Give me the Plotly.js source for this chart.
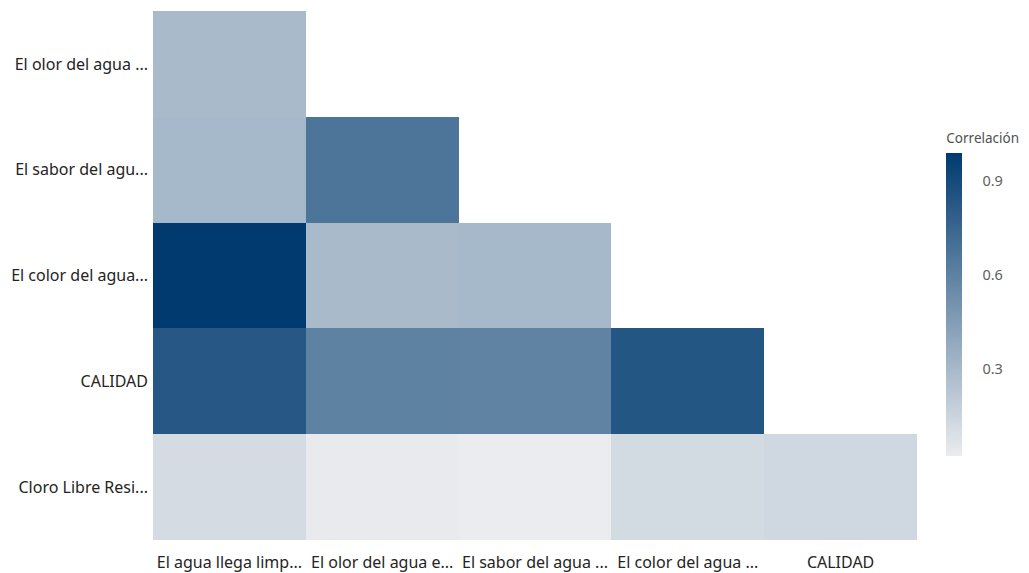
<!DOCTYPE html>
<html>
<head>
<meta charset="utf-8">
<script src="https://cdn.plot.ly/plotly-3.0.1.min.js"></script>
<style>html,body{margin:0;padding:0;background:#fff;}#chart{width:1029px;height:573px;}</style>
</head>
<body>
<div id="chart"></div>
<script>
const xLabels = ["El agua llega limp...", "El olor del agua e...", "El sabor del agua ...", "El color del agua ...", "CALIDAD"];
const yLabels = ["El olor del agua ...", "El sabor del agu...", "El color del agua...", "CALIDAD", "Cloro Libre Resi..."];
// rows follow yLabels, columns follow xLabels (null = empty upper triangle)
const rowOlor    = [0.29, null, null, null, null];
const rowSabor   = [0.30, 0.67, null, null, null];
const rowColor   = [0.99, 0.29, 0.30, null, null];
const rowCalidad = [0.83, 0.60, 0.59, 0.84, null];
const rowCloro   = [0.11, 0.03, 0.02, 0.12, 0.13];
const colorbarTicks = [0.3, 0.6, 0.9];

const z = [rowOlor, rowSabor, rowColor, rowCalidad, rowCloro];
const FONT = 'Noto Sans, Open Sans, sans-serif';

const trace = {
  type: 'heatmap',
  x: xLabels,
  y: yLabels,
  z: z,
  zmin: 0.02,
  zmax: 0.99,
  colorscale: [[0, '#eaecef'], [1, '#003a6f']],
  hoverongaps: false,
  colorbar: {
    title: {text: 'Correlación', side: 'top', font: {family: FONT, size: 13.5, color: '#505050'}},
    thickness: 16,
    len: 326,
    lenmode: 'pixels',
    yanchor: 'top',
    y: 0.775,
    x: 1.037,
    xanchor: 'left',
    xpad: 0,
    ypad: 0,
    outlinewidth: 0,
    tickvals: colorbarTicks,
    ticktext: colorbarTicks.map(String),
    ticks: 'outside',
    ticklen: 18,
    tickcolor: 'rgba(255,255,255,0)',
    tickwidth: 1,
    tickfont: {family: FONT, size: 14.5, color: '#605e5c'}
  }
};

const layout = {
  width: 1029,
  height: 573,
  margin: {l: 153, r: 111, t: 11, b: 33},
  paper_bgcolor: '#ffffff',
  plot_bgcolor: '#ffffff',
  font: {family: FONT, size: 16, color: '#252423'},
  xaxis: {type: 'category', showgrid: false, zeroline: false, ticks: '', showline: false, automargin: false, ticklabelstandoff: 11},
  yaxis: {type: 'category', autorange: 'reversed', showgrid: false, zeroline: false, ticks: '', showline: false, automargin: false, ticklabelstandoff: 4}
};

Plotly.newPlot('chart', [trace], layout, {displayModeBar: false, staticPlot: true});
</script>
</body>
</html>
